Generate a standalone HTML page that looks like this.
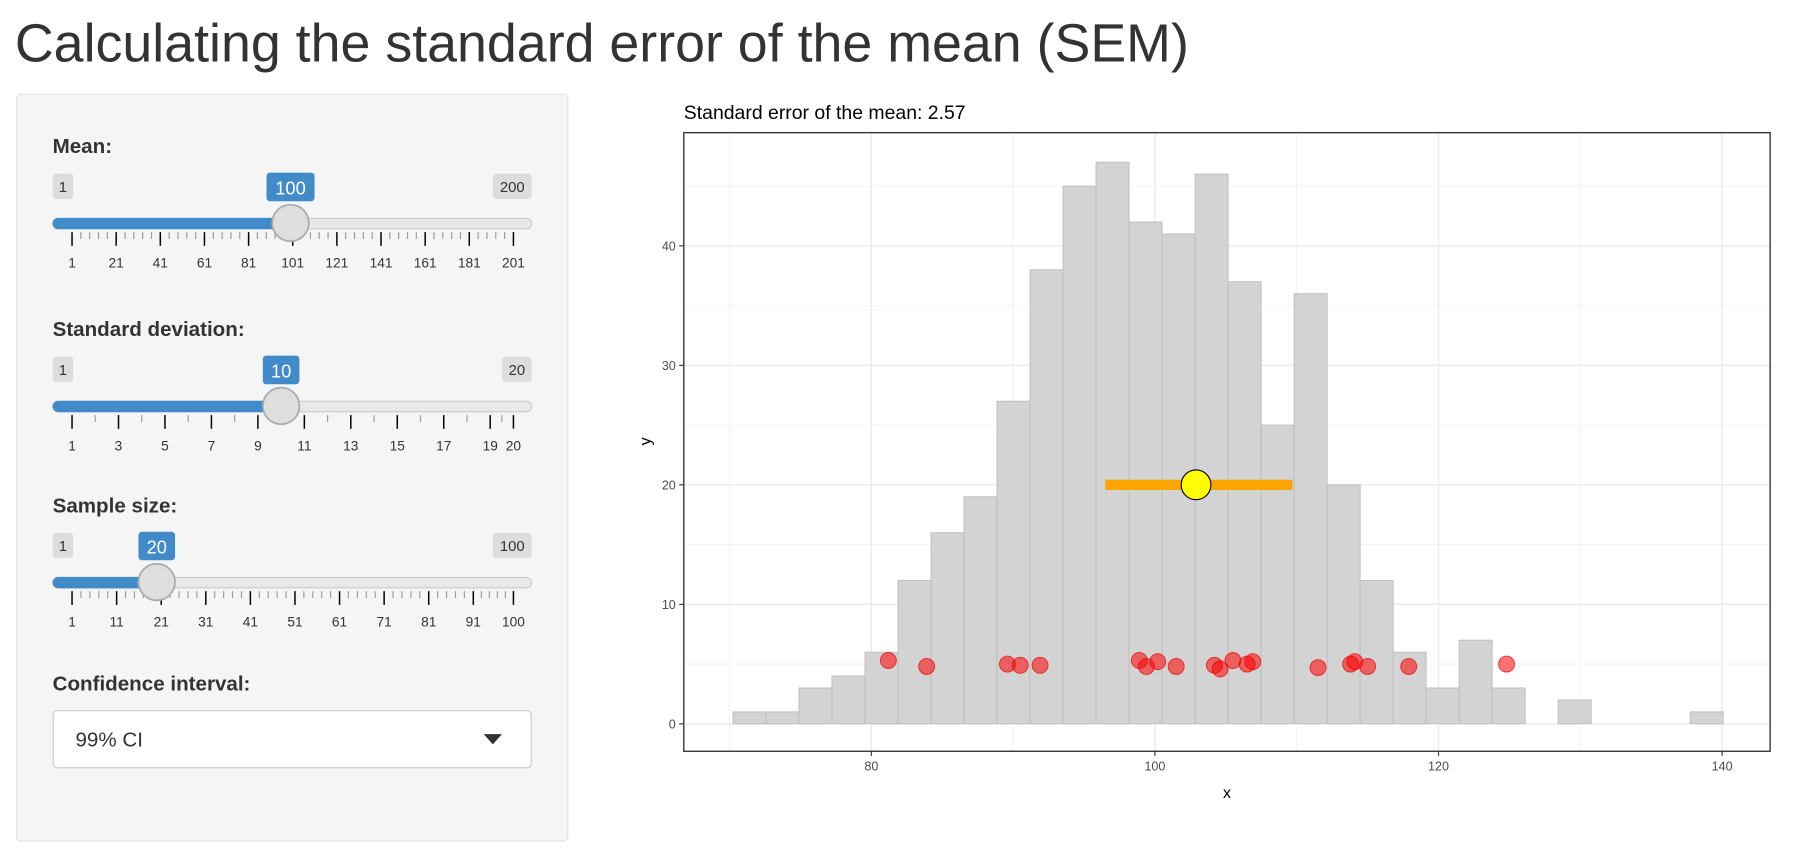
<!DOCTYPE html>
<html><head><meta charset="utf-8"><style>
html,body{margin:0;padding:0;background:#fff;overflow:hidden;width:1793px;height:862px}
#root{position:absolute;left:0;top:0;width:1568px;height:754px;transform:scale(1.14349);transform-origin:0 0;font-family:"Liberation Sans",Arial,sans-serif;color:#333}
.abs{position:absolute}
</style></head><body>
<div id="root">
<div class="abs" style="left:13px;top:10px;font-size:47px;color:#333;white-space:nowrap">Calculating the standard error of the mean (SEM)</div>
<div class="abs" style="left:14px;top:82px;width:481px;height:652px;background:#f5f5f5;border:1px solid #e3e3e3;border-radius:4px"></div>
<svg id="sliders" class="abs" style="left:0;top:0" width="520" height="754"></svg>
<div class="abs" style="left:46px;top:621px;width:419px;height:51px;background:#fff;border:1px solid #ccc;border-radius:4px;box-sizing:border-box">
<span style="position:absolute;left:19px;top:15px;font-size:18px;color:#333">99% CI</span>
<span style="position:absolute;left:376px;top:20px;width:0;height:0;border-left:8px solid transparent;border-right:8px solid transparent;border-top:9px solid #333"></span>
</div>
<svg id="chart" class="abs" style="left:0;top:0" width="1568" height="754"></svg>
</div>
<script>
// ---- chart data ----
const binCounts=[1,1,3,4,6,12,16,19,27,38,45,47,42,41,46,37,25,36,20,12,6,3,7,3,0,2,0,0,0,1];
const binStart=70.24;
const binWidth=2.328;
const sampleX=[81.2,83.9,89.6,90.5,91.9,98.9,99.4,100.2,101.5,104.2,104.6,105.5,106.5,106.9,111.5,113.8,114.1,115.0,117.9,124.8];
const sampleY=[5.3,4.8,5.0,4.9,4.9,5.3,4.8,5.2,4.8,4.9,4.6,5.3,5.0,5.2,4.7,5.0,5.2,4.8,4.8,5.0];
const sampleMean=[102.9];
const ciBounds=[96.5,109.7];
const ciY=[20];
const xTicks=[80,100,120,140];
const yTicks=[0,10,20,30,40];
const NS='http://www.w3.org/2000/svg';
function mk(p,t,a){const e=document.createElementNS(NS,t);for(const k in a)e.setAttribute(k,a[k]);p.appendChild(e);return e;}
const svg=document.getElementById('chart');
const L=598,R=1548,T=116,B=657;
const sx=v=>762+(v-80)*12.4;
const sy=v=>633-v*10.45;
const t0=mk(svg,'text',{x:598,y:104,'font-size':17,fill:'#000'});t0.textContent='Standard error of the mean: 2.57';


mk(svg,'rect',{x:L,y:T,width:R-L,height:B-T,fill:'#fff'});
for(let v=5;v<=50;v+=10){if(sy(v)>T)mk(svg,'line',{x1:L,x2:R,y1:sy(v),y2:sy(v),stroke:'#f0f0f0','stroke-width':0.7});}
for(let v=70;v<=150;v+=20){const x=sx(v);if(x>L&&x<R)mk(svg,'line',{x1:x,x2:x,y1:T,y2:B,stroke:'#f0f0f0','stroke-width':0.7});}
yTicks.forEach(v=>{mk(svg,'line',{x1:L,x2:R,y1:sy(v),y2:sy(v),stroke:'#ebebeb','stroke-width':1.2});
 mk(svg,'line',{x1:L-4,x2:L,y1:sy(v),y2:sy(v),stroke:'#333'});
 const t=mk(svg,'text',{x:L-7,y:sy(v)+4,'font-size':11,fill:'#4d4d4d','text-anchor':'end'});t.textContent=v;
 
 });
xTicks.forEach(v=>{mk(svg,'line',{x1:sx(v),x2:sx(v),y1:T,y2:B,stroke:'#ebebeb','stroke-width':1.2});
 mk(svg,'line',{x1:sx(v),x2:sx(v),y1:B,y2:B+4,stroke:'#333'});
 const t=mk(svg,'text',{x:sx(v),y:B+17,'font-size':11,fill:'#4d4d4d','text-anchor':'middle'});t.textContent=v;
 
 });
binCounts.forEach((c,i)=>{const x0=sx(binStart+i*binWidth),x1=sx(binStart+(i+1)*binWidth);
 const r=mk(svg,'rect',{x:x0,y:sy(c),width:x1-x0,height:sy(0)-sy(c),fill:'#d3d3d3',stroke:'#bdbdbd','stroke-width':0.8});
 
 });
sampleX.forEach((v,i)=>{const c=mk(svg,'circle',{cx:sx(v),cy:sy(sampleY[i]),r:7,fill:'rgba(255,0,0,0.55)',stroke:'rgba(230,0,0,0.7)','stroke-width':0.8});
 
 });
const ci=mk(svg,'line',{x1:sx(ciBounds[0]),x2:sx(ciBounds[1]),y1:sy(ciY[0]),y2:sy(ciY[0]),stroke:'#ffa500','stroke-width':9});


const mc=mk(svg,'circle',{cx:sx(sampleMean[0]),cy:sy(ciY[0]),r:13,fill:'#ffff00',stroke:'#000','stroke-width':1});


mk(svg,'rect',{x:L,y:T,width:R-L,height:B-T,fill:'none',stroke:'#333','stroke-width':1.2});
const xt=mk(svg,'text',{x:1073,y:698,'font-size':14,fill:'#000','text-anchor':'middle'});xt.textContent='x';


const yt=mk(svg,'text',{x:0,y:0,'font-size':14,fill:'#000','text-anchor':'middle',transform:'translate(569,386) rotate(-90)'});yt.textContent='y';



// ---- sliders ----
const ss=document.getElementById('sliders');
function slider(name,label,ly,min,max,val,majors,nMinor,valLabel,minLabel,maxLabel){
 const g=mk(ss,'g',{});
 
 
 const lab=mk(g,'text',{x:46,y:ly,'font-size':18,'font-weight':'bold',fill:'#333'});lab.textContent=label;
 const a=63,b=449,px=v=>a+(v-min)/(max-min)*(b-a);
 const by=ly+18;
 mk(g,'rect',{x:46,y:by,width:18,height:22,rx:3,fill:'#ddd'});
 const mn=mk(g,'text',{x:55,y:by+16,'font-size':13,fill:'#333','text-anchor':'middle'});mn.textContent=minLabel;
 const mw=maxLabel.length*8+10;
 mk(g,'rect',{x:465-mw,y:by,width:mw,height:22,rx:3,fill:'#ddd'});
 const mx=mk(g,'text',{x:465-mw/2,y:by+16,'font-size':13,fill:'#333','text-anchor':'middle'});mx.textContent=maxLabel;
 const hx=px(val);
 const vw=valLabel.length*10+12;
 mk(g,'rect',{x:hx-vw/2,y:by-1,width:vw,height:25,rx:3,fill:'#428bca'});
 const vt=mk(g,'text',{x:hx,y:by+18,'font-size':16,fill:'#fff','text-anchor':'middle'});vt.textContent=valLabel;
 const ty=by+43;
 mk(g,'rect',{x:46,y:ty-4,width:419,height:9,rx:4.5,fill:'#e8e8e8',stroke:'#ccc','stroke-width':1});
 mk(g,'rect',{x:46,y:ty-4.5,width:hx-46,height:10,rx:5,fill:'#428bca'});
 for(let i=0;i<majors.length;i++){
  const x=px(majors[i]);
  mk(g,'line',{x1:x,x2:x,y1:ty+8,y2:ty+20,stroke:'#000','stroke-width':1.3});
  const t=mk(g,'text',{x:x,y:ty+39,'font-size':12,fill:'#333','text-anchor':'middle'});t.textContent=majors[i];
  if(i<majors.length-1){const x2=px(majors[i+1]);for(let k=1;k<=nMinor;k++){const xm=x+(x2-x)*k/(nMinor+1);mk(g,'line',{x1:xm,x2:xm,y1:ty+8,y2:ty+14,stroke:'#999','stroke-width':1});}}
 }
 mk(g,'circle',{cx:hx,cy:ty,r:16,fill:'#dedede',stroke:'#aaa','stroke-width':1.5});
}
slider('mean','Mean:',134,1,201,100,[1,21,41,61,81,101,121,141,161,181,201],4,'100','1','200');
slider('sd','Standard deviation:',294,1,20,10,[1,3,5,7,9,11,13,15,17,19,20],1,'10','1','20');
slider('sample-size','Sample size:',448,1,100,20,[1,11,21,31,41,51,61,71,81,91,100],4,'20','1','100');
const ct=mk(ss,'text',{x:46,y:604,'font-size':18,'font-weight':'bold',fill:'#333'});ct.textContent='Confidence interval:';


</script>
</body></html>
